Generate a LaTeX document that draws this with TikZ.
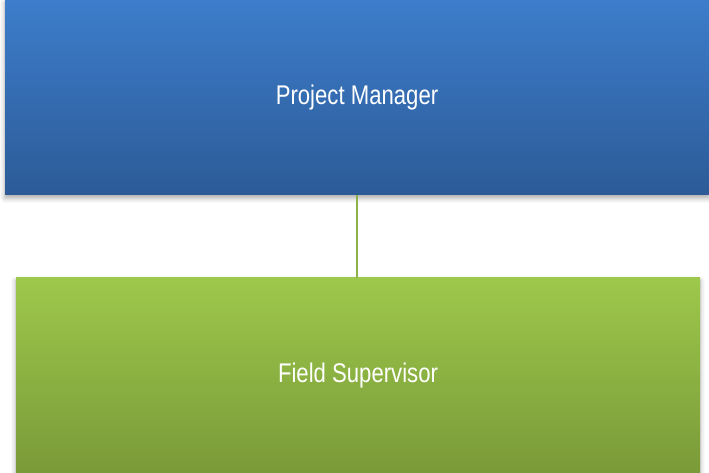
\documentclass[tikz,border=0pt]{standalone}
\usepackage{fontspec}
\newfontfamily\boxfont[FakeStretch=0.82]{Liberation Sans}
\usetikzlibrary{shadows.blur}
\definecolor{pmtop}{HTML}{3D7DCB}
\definecolor{pmbot}{HTML}{2C5B97}
\definecolor{fstop}{HTML}{9DC84B}
\definecolor{fsbot}{HTML}{7A9A39}
\definecolor{linkgreen}{HTML}{8DB24A}

\begin{document}
\begin{tikzpicture}[x=1pt,y=1pt]
\tikzstyle{every node}=[inner sep=0pt, rectangle, text=white, font=\boxfont\fontsize{27}{32}\selectfont]
\tikzstyle{role}=[minimum height=195pt, blur shadow={shadow xshift=0pt, shadow yshift=-3pt, shadow blur radius=5pt, shadow opacity=35}]
\useasboundingbox (0,0) rectangle (709,473);
\draw (357,375.5) node (pm) [role, minimum width=704pt, top color=pmtop, bottom color=pmbot] {Project Manager};
\draw (358,97.5) node (fs) [role, minimum width=684pt, top color=fstop, bottom color=fsbot] {Field Supervisor};
\draw[linkgreen, line width=2pt] (pm.south) -- (pm.south |- fs.north);
\end{tikzpicture}
\end{document}
